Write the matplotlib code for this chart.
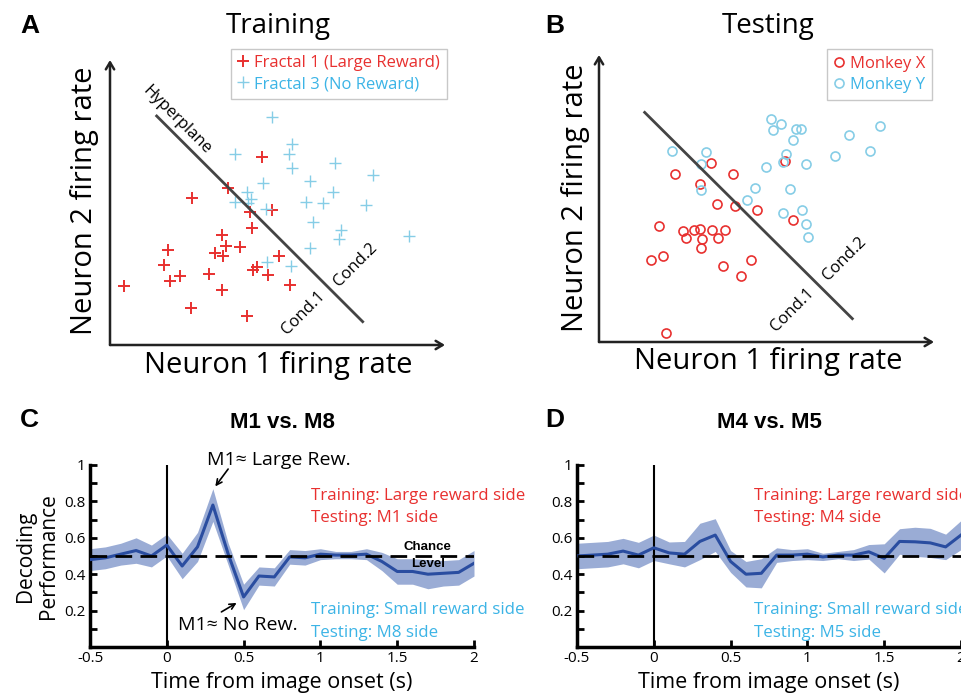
import numpy as np
import matplotlib
matplotlib.use("Agg")
from matplotlib import pyplot as plt

plt.rcParams['font.family'] = ['Open Sans', 'DejaVu Sans']

RED = '#e8302f'
CYAN_TXT = '#3cb4e6'
CYAN_PT = '#86cde6'
BLUE = '#2a4da0'
BAND = '#8fa3d1'

# panel A: training points (arbitrary firing-rate units)
a_red_x = [4.2, 24.5, 35.3, 45.5, 42.0, 48.5, 42.7, 33.5, 34.8, 39.0, 31.5, 33.8, 17.5,
           16.2, 18.0, 21.0, 29.8, 33.5, 24.3, 41.0, 42.8, 44.0, 47.5, 50.8, 54.0]
a_red_y = [17.7, 44.0, 47.0, 56.5, 40.0, 40.5, 35.0, 33.0, 29.7, 29.3, 27.5, 26.7, 28.5,
           24.0, 19.3, 20.7, 21.2, 16.5, 11.2, 8.7, 22.5, 23.5, 21.0, 26.7, 18.0]
a_cyan_x = [48.5, 37.5, 54.5, 53.8, 54.7, 67.5, 79.0, 60.0, 46.0, 41.0, 66.8, 37.5, 42.2,
            41.5, 58.7, 64.0, 76.7, 46.7, 61.0, 69.2, 68.7, 89.7, 60.0, 47.0, 54.3]
a_cyan_y = [68.3, 57.3, 60.3, 57.3, 53.0, 54.5, 51.0, 49.3, 48.7, 46.0, 46.0, 43.0, 43.7,
            42.5, 43.0, 42.5, 42.0, 40.7, 36.8, 34.5, 31.7, 32.7, 29.0, 24.8, 23.8]
a_plane_x = [14.0, 75.8]
a_plane_y = [68.7, 7.0]

# panel B: testing points
b_red_x = [20.2, 15.7, 19.3, 18.0, 22.7, 33.5, 40.2, 30.3, 35.3, 40.8, 47.5, 25.3, 26.0,
           28.5, 30.3, 31.0, 30.7, 34.0, 35.8, 37.8, 37.2, 42.7, 45.5, 55.7, 58.3]
b_red_y = [2.7, 24.7, 25.8, 34.8, 50.3, 53.7, 50.3, 47.2, 41.5, 40.8, 39.7, 33.2, 31.3,
           33.5, 33.8, 30.8, 28.2, 33.7, 31.3, 33.7, 22.7, 19.7, 24.5, 54.2, 36.5]
b_cyan_x = [22.0, 32.2, 30.5, 30.7, 51.5, 54.5, 52.2, 59.0, 60.7, 58.3, 56.2, 55.3, 50.2,
            62.0, 70.7, 75.0, 84.3, 81.3, 46.8, 44.5, 57.2, 55.3, 60.8, 62.0, 62.8]
b_cyan_y = [57.2, 57.0, 53.2, 45.5, 66.7, 65.3, 63.5, 63.7, 63.7, 60.5, 56.2, 53.8, 52.5,
            53.2, 55.8, 62.0, 64.7, 57.3, 46.0, 42.7, 45.8, 38.7, 39.7, 35.3, 31.5]
b_plane_x = [13.7, 76.0]
b_plane_y = [68.8, 7.0]

# panels C, D: decoding performance
t = [-0.5, -0.4, -0.3, -0.2, -0.1, 0.0, 0.1, 0.2, 0.3, 0.4, 0.5, 0.6, 0.7, 0.8, 0.9,
     1.0, 1.1, 1.2, 1.3, 1.4, 1.5, 1.6, 1.7, 1.8, 1.9, 2.0]
c_mean = [0.48, 0.49, 0.51, 0.53, 0.50, 0.56, 0.445, 0.55, 0.78, 0.51, 0.275, 0.39, 0.385,
          0.495, 0.49, 0.51, 0.505, 0.505, 0.51, 0.47, 0.415, 0.415, 0.40, 0.405, 0.41, 0.46]
c_sem = [0.06, 0.06, 0.06, 0.07, 0.06, 0.06, 0.07, 0.08, 0.09, 0.06, 0.07, 0.05, 0.05,
         0.04, 0.04, 0.03, 0.02, 0.02, 0.03, 0.05, 0.07, 0.07, 0.08, 0.07, 0.07, 0.07]
d_mean = [0.50, 0.505, 0.51, 0.527, 0.505, 0.545, 0.517, 0.51, 0.58, 0.615, 0.47, 0.40, 0.405,
          0.505, 0.505, 0.51, 0.495, 0.505, 0.505, 0.523, 0.487, 0.58, 0.578, 0.572, 0.55, 0.615]
d_sem = [0.07, 0.07, 0.07, 0.07, 0.07, 0.07, 0.06, 0.07, 0.10, 0.09, 0.06, 0.07, 0.08,
         0.04, 0.03, 0.03, 0.02, 0.02, 0.03, 0.04, 0.08, 0.07, 0.08, 0.08, 0.07, 0.08]
x_ticks = [-0.5, 0, 0.5, 1, 1.5, 2]
x_labels = ['-0.5', '0', '0.5', '1', '1.5', '2']
y_ticks = [0.2, 0.4, 0.6, 0.8, 1.0]
y_labels = ['0.2', '0.4', '0.6', '0.8', '1']

W, H = 962, 696
fig = plt.figure(figsize=(W / 100, H / 100), dpi=100)


def rect(l, t_, r, b):
    return [l / W, 1 - b / H, (r - l) / W, (b - t_) / H]


def ftext(px, py, s, **kw):
    fig.text(px / W, 1 - py / H, s, **kw)


def scatter_panel(box, xlim, ylim, red_x, red_y, cyan_x, cyan_y, plane_x, plane_y,
                  marker, labels, leg_anchor, cond1, cond2):
    ax = fig.add_axes(box)
    ax.set_xlim(*xlim)
    ax.set_ylim(*ylim)
    ax.axis('off')
    arrow = dict(arrowstyle='->,head_length=0.5,head_width=0.3', lw=1.8, color='#222222',
                 shrinkA=0, shrinkB=0)
    ax.annotate('', xy=(xlim[1], 0), xytext=(0, 0), arrowprops=arrow, annotation_clip=False)
    ax.annotate('', xy=(0, ylim[1]), xytext=(0, 0), arrowprops=arrow, annotation_clip=False)
    if marker == '+':
        ax.plot(red_x, red_y, '+', color=RED, ms=8.5, mew=1.4, ls='none', label=labels[0])
        ax.plot(cyan_x, cyan_y, '+', color=CYAN_PT, ms=8.5, mew=1.0, ls='none', label=labels[1])
    else:
        ax.plot(red_x, red_y, 'o', mfc='none', mec=RED, ms=6.5, mew=1.2, ls='none', label=labels[0])
        ax.plot(cyan_x, cyan_y, 'o', mfc='none', mec=CYAN_PT, ms=6.5, mew=1.2, ls='none', label=labels[1])
    ax.plot(plane_x, plane_y, color='#444444', lw=2)
    leg = ax.legend(loc='upper right', bbox_to_anchor=leg_anchor, fontsize=12, frameon=True,
                    fancybox=False, borderpad=0.4, handlelength=0.7, handletextpad=0.3,
                    labelspacing=0.3, borderaxespad=0.0)
    leg.get_frame().set_edgecolor('#bbbbbb')
    leg.get_frame().set_linewidth(1.0)
    for txt, c in zip(leg.get_texts(), [RED, CYAN_TXT]):
        txt.set_color(c)
    ax.text(cond1[0], cond1[1], 'Cond.1', rotation=45, fontsize=12, ha='center', va='center')
    ax.text(cond2[0], cond2[1], 'Cond.2', rotation=45, fontsize=12, ha='center', va='center')
    return ax


# panel A
axA = scatter_panel(rect(110, 60, 445, 345), (0, 100.5), (0, 85.5),
                    a_red_x, a_red_y, a_cyan_x, a_cyan_y, a_plane_x, a_plane_y, '+',
                    ['Fractal 1 (Large Reward)', 'Fractal 3 (No Reward)'], (1.005, 1.04),
                    (58.0, 9.5), (73.5, 24.0))
axA.text(20.0, 67.5, 'Hyperplane', rotation=-45, fontsize=12, ha='center', va='center')
ftext(30, 26, 'A', fontsize=19, fontweight='bold', ha='center', va='center', family='Liberation Sans')
ftext(278, 26, 'Training', fontsize=20, ha='center', va='center')
ftext(85, 201, 'Neuron 2 firing rate', fontsize=21, rotation=90, ha='center', va='center')
ftext(278, 365, 'Neuron 1 firing rate', fontsize=21, ha='center', va='center')

# panel B
axB = scatter_panel(rect(599, 55, 934, 342), (0, 100.5), (0, 86.0),
                    b_red_x, b_red_y, b_cyan_x, b_cyan_y, b_plane_x, b_plane_y, 'o',
                    ['Monkey X', 'Monkey Y'], (0.995, 1.02),
                    (58.0, 9.5), (73.5, 25.0))
ftext(555, 26, 'B', fontsize=19, fontweight='bold', ha='center', va='center', family='Liberation Sans')
ftext(768, 26, 'Testing', fontsize=20, ha='center', va='center')
ftext(576, 198, 'Neuron 2 firing rate', fontsize=21, rotation=90, ha='center', va='center')
ftext(768, 361, 'Neuron 1 firing rate', fontsize=21, ha='center', va='center')


def decoding_panel(box, mean, sem, title, letter, lx, tx, m_top, m_bot):
    ax = fig.add_axes(box)
    lo = np.array(mean) - np.array(sem)
    hi = np.array(mean) + np.array(sem)
    ax.fill_between(t, lo, hi, color=BAND, lw=0, alpha=0.9, zorder=1)
    ax.plot(t, mean, color=BLUE, lw=2.2, zorder=3)
    ax.plot([-0.5, 2], [0.5, 0.5], color='black', lw=2, dashes=(6, 3), zorder=4)
    ax.plot([0, 0], [0, 1], color='black', lw=1.5, zorder=2)
    ax.set_xlim(-0.5, 2)
    ax.set_ylim(0, 1)
    for s in ['top', 'right']:
        ax.spines[s].set_visible(False)
    for s in ['left', 'bottom']:
        ax.spines[s].set_linewidth(2.5)
    ax.set_xticks(x_ticks)
    ax.set_xticklabels(x_labels, fontsize=11)
    ax.set_yticks(y_ticks)
    ax.set_yticklabels(y_labels, fontsize=11)
    ax.set_yticks(np.arange(0.1, 1.0, 0.2), minor=True)
    ax.tick_params(direction='in', length=5, width=2, pad=3)
    ax.tick_params(which='minor', direction='in', length=5, width=2)
    ax.set_xlabel('Time from image onset (s)', fontsize=15.5, labelpad=4)
    ftext(tx, 496, 'Training: Large reward side', color=RED, fontsize=12.2, va='center')
    ftext(tx, 518, m_top, color=RED, fontsize=12.2, va='center')
    ftext(tx, 610, 'Training: Small reward side', color=CYAN_TXT, fontsize=12.2, va='center')
    ftext(tx, 633, m_bot, color=CYAN_TXT, fontsize=12.2, va='center')
    ftext(lx, 420, letter, fontsize=19, fontweight='bold', ha='center', va='center',
          family='Liberation Sans')
    ftext((box[0] + box[2] / 2) * W, 423, title, fontsize=16, fontweight='bold', ha='center',
          va='center', family='Liberation Sans')
    return ax


axC = decoding_panel(rect(90, 465, 474, 647), c_mean, c_sem, 'M1 vs. M8', 'C', 29, 311,
                     'Testing: M1 side', 'Testing: M8 side')
ftext(37, 556, 'Decoding\nPerformance', fontsize=15, rotation=90, ha='center', va='center',
      linespacing=1.1)
axC.annotate('', xy=(0.305, 0.87), xytext=(0.41, 0.99),
             arrowprops=dict(arrowstyle='->', lw=1.2, color='black'), annotation_clip=False)
axC.text(0.73, 1.03, 'M1\u2248 Large Rew.', fontsize=14, ha='center', va='center')
axC.annotate('', xy=(0.47, 0.25), xytext=(0.34, 0.185),
             arrowprops=dict(arrowstyle='->', lw=1.2, color='black'))
axC.text(0.46, 0.12, 'M1\u2248 No Rew.', fontsize=14, ha='center', va='center')
axC.text(1.7, 0.55, 'Chance', fontsize=9.5, fontweight='bold', ha='center', va='center',
         family='Liberation Sans')
axC.text(1.7, 0.455, 'Level', fontsize=9.5, fontweight='bold', ha='center', va='center',
         family='Liberation Sans')

axD = decoding_panel(rect(577, 465, 961, 647), d_mean, d_sem, 'M4 vs. M5', 'D', 555, 754,
                     'Testing: M4 side', 'Testing: M5 side')

fig.savefig('out.png', dpi=100)
